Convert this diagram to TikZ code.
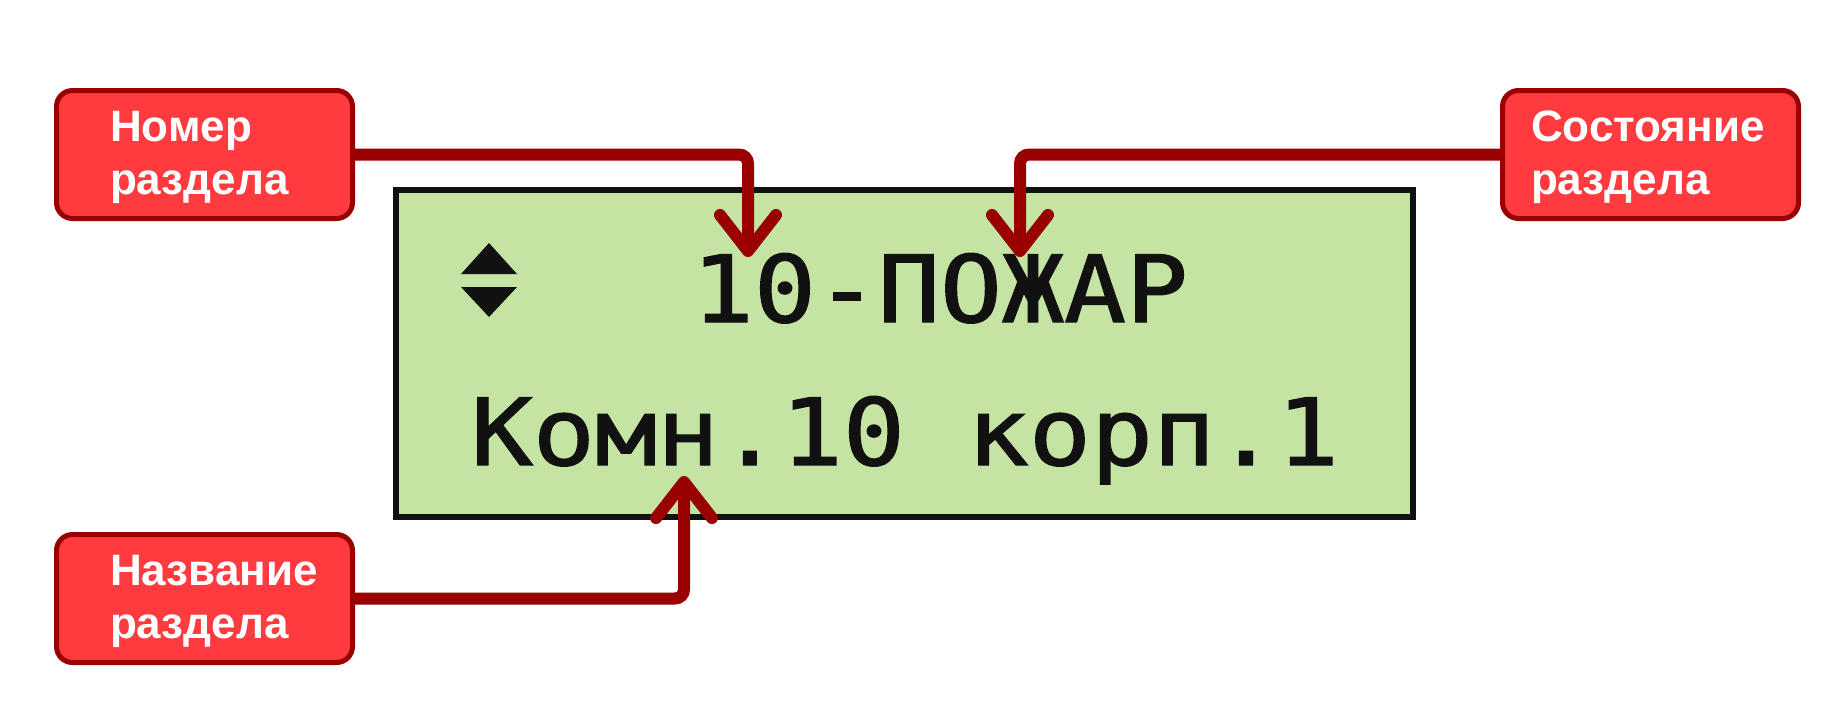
\documentclass[tikz,border=0pt]{standalone}
\usepackage{fontspec}
\usepackage{graphicx}
\setmainfont{Liberation Sans}
\newfontfamily\lcdfont[FakeBold=1.4]{DejaVu Sans Mono}
\usetikzlibrary{arrows.meta}
\definecolor{boxred}{HTML}{FF3B3F}
\definecolor{darkred}{HTML}{990000}
\definecolor{lcdgreen}{HTML}{C5E3A3}
\definecolor{lcdblack}{HTML}{111111}
\newcommand{\lcdline}[1]{\scalebox{1}[0.9]{#1}}
\begin{document}
\begin{tikzpicture}[x=1pt,y=-1pt,
  labelbox/.style={draw=darkred, line width=5pt, fill=boxred, rounded corners=16pt,
    minimum width=296pt, minimum height=128pt, inner sep=0pt, align=left,
    text=white, text depth=56pt, font=\bfseries\fontsize{44}{53}\selectfont},
  conn/.style={draw=darkred, line width=12pt, rounded corners=9pt,
    -{Straight Barb[length=36pt, width=56pt, round]}},
  lcd/.style={draw=lcdblack, fill=lcdgreen, line width=5.5pt,
    minimum width=1017pt, minimum height=327pt, inner sep=0pt},
  lcdtext/.style={inner sep=0pt, text=lcdblack,
    font=\lcdfont\fontsize{103}{110}\selectfont}
]
\useasboundingbox (0,0) rectangle (1843,724);
\fill[white] (0,0) rectangle (1843,724);

% LCD
\node[lcd] (lcd) at (904.5,353.5) {};
\fill[lcdblack] (489,243) -- (517,274) -- (461,274) -- cycle;
\fill[lcdblack] (461,287) -- (517,287) -- (489,317) -- cycle;
\node[lcdtext, anchor=base] (line1) at (940,322) {\lcdline{10-ПОЖАР}};
\node[lcdtext, anchor=base] (line2) at (905,465) {\lcdline{Комн.10 корп.1}};

% label boxes
\node[labelbox, text width=189pt] (b1) at (204.5,154.5) {Номер\\раздела};
\node[labelbox, text width=239pt] (b2) at (1650.5,154.5) {Состояние\\раздела};
\node[labelbox, text width=189pt] (b3) at (204.5,598.5) {Название\\раздела};

% arrow targets
\coordinate (t1) at (748,257);
\coordinate (t2) at (1020,257);
\coordinate (t3) at (684,476);

\draw[conn] (b1.east) -| (t1);
\draw[conn] (b2.west) -| (t2);
\draw[conn] (b3.east) -| (t3);
\end{tikzpicture}
\end{document}
